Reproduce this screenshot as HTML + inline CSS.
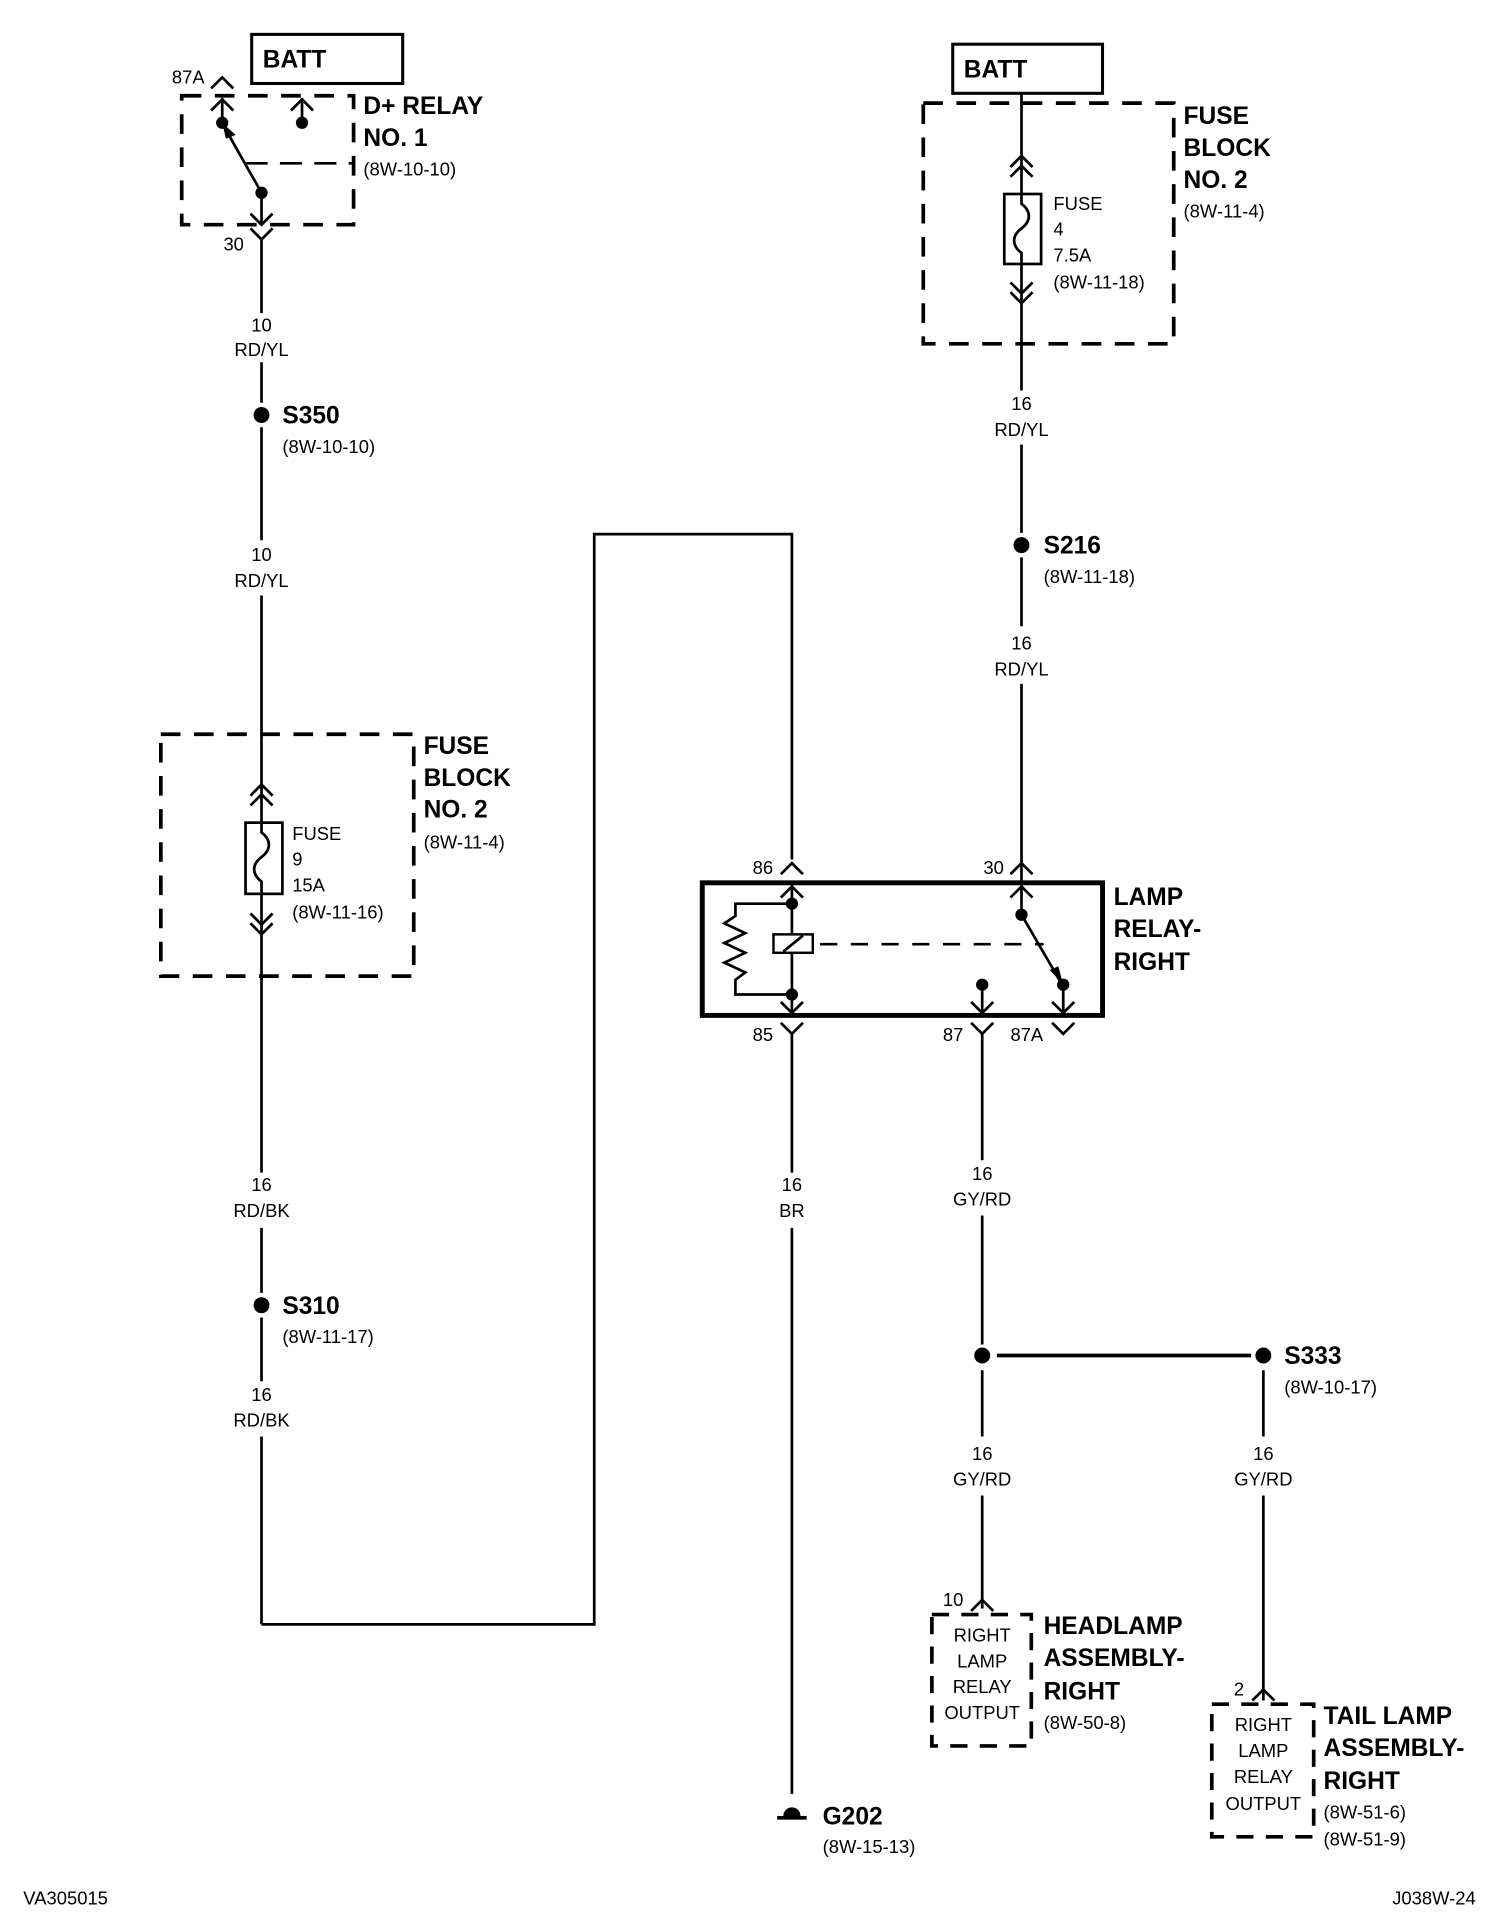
<!DOCTYPE html>
<html><head><meta charset="utf-8"><style>
html,body{margin:0;padding:0;background:#fff;}
svg{display:block;}
text{font-family:"Liberation Sans",sans-serif;fill:#000;}
.b{font-weight:bold;font-size:20px;}
.s{font-size:15px;}
.c{text-anchor:middle;}
</style></head><body>
<svg width="1504" height="1924" viewBox="0 0 1225 1567" preserveAspectRatio="none" xmlns="http://www.w3.org/2000/svg">
<g stroke="#000" fill="none" stroke-width="2.2">
<!-- LEFT TOP RELAY -->
<rect x="205" y="28" width="123" height="40" stroke-width="2.5"/>
<rect x="148" y="78" width="140" height="105" stroke-width="3" stroke-dasharray="16,11"/>
<polyline points="172,72 181,63 190,72"/>
<line x1="181" y1="80" x2="181" y2="100"/>
<polyline points="172,90 181,81 190,90"/>
<line x1="246" y1="80" x2="246" y2="100"/>
<polyline points="237,90 246,81 255,90"/>
<line x1="213" y1="157" x2="183" y2="104"/>
<line x1="200" y1="133" x2="288" y2="133" stroke-dasharray="18,10"/>
<line x1="213" y1="157" x2="213" y2="183"/>
<polyline points="204,174 213,183 222,174"/>
<polyline points="204,186 213,195 222,186"/>
<!-- left wire -->
<line x1="213" y1="195" x2="213" y2="255"/>
<line x1="213" y1="295" x2="213" y2="328"/>
<line x1="213" y1="348" x2="213" y2="440"/>
<line x1="213" y1="485" x2="213" y2="670"/>
<rect x="131" y="598" width="206" height="197" stroke-width="3" stroke-dasharray="16,11"/>
<polyline points="204,648 213,639 222,648"/>
<polyline points="204,656 213,647 222,656"/>
<rect x="200" y="670" width="30" height="58"/>
<path d="M213,670 v8 c8,6 8,14 0,20 c-8,6 -8,14 0,20 v10"/>
<line x1="213" y1="728" x2="213" y2="955"/>
<polyline points="204,744 213,753 222,744"/>
<polyline points="204,752 213,761 222,752"/>
<line x1="213" y1="1000" x2="213" y2="1053"/>
<line x1="213" y1="1073" x2="213" y2="1125"/>
<line x1="213" y1="1170" x2="213" y2="1323"/>
<polyline points="213,1323 484,1323 484,435 645,435 645,700"/>
<!-- RELAY RIGHT -->
<rect x="572" y="719" width="326" height="108" stroke-width="4"/>
<polyline points="636,712 645,703 654,712"/>
<polyline points="636,731 645,722 654,731"/>
<line x1="645" y1="719" x2="645" y2="825"/>
<polyline points="645,736 599,736 599,746 590,752 607,760 590,768 607,776 590,784 607,792 599,798 599,810 645,810"/>
<rect x="630" y="761" width="32" height="15" stroke-width="2" fill="#fff"/>
<line x1="638" y1="775" x2="654" y2="762"/>
<line x1="668" y1="769" x2="850" y2="769" stroke-dasharray="14,11"/>
<polyline points="823,712 832,703 841,712"/>
<polyline points="823,731 832,722 841,731"/>
<line x1="832" y1="700" x2="832" y2="745"/>
<line x1="832" y1="745" x2="864" y2="800"/>
<polyline points="636,816 645,825 654,816"/>
<polyline points="636,833 645,842 654,833"/>
<line x1="645" y1="842" x2="645" y2="955"/>
<line x1="800" y1="802" x2="800" y2="825"/>
<polyline points="791,816 800,825 809,816"/>
<polyline points="791,833 800,842 809,833"/>
<line x1="800" y1="842" x2="800" y2="945"/>
<line x1="866" y1="802" x2="866" y2="825"/>
<polyline points="857,816 866,825 875,816"/>
<polyline points="857,833 866,842 875,833"/>
<line x1="645" y1="1000" x2="645" y2="1461"/>
<line x1="800" y1="990" x2="800" y2="1095"/>
<line x1="812" y1="1104" x2="1019" y2="1104" stroke-width="3"/>
<line x1="800" y1="1116" x2="800" y2="1170"/>
<line x1="1029" y1="1116" x2="1029" y2="1170"/>
<line x1="800" y1="1218" x2="800" y2="1310"/>
<line x1="1029" y1="1218" x2="1029" y2="1385"/>
<polyline points="791,1312 800,1303 809,1312"/>
<rect x="759" y="1315" width="81" height="107" stroke-width="3" stroke-dasharray="14,10"/>
<polyline points="1020,1385 1029,1376 1038,1385"/>
<rect x="987" y="1388" width="83" height="108" stroke-width="3" stroke-dasharray="14,10"/>
<!-- RIGHT TOP -->
<rect x="776" y="36" width="122" height="40" stroke-width="2.5"/>
<rect x="752" y="84" width="204" height="196" stroke-width="3" stroke-dasharray="16,11"/>
<line x1="832" y1="76" x2="832" y2="158"/>
<polyline points="823,136 832,127 841,136"/>
<polyline points="823,144 832,135 841,144"/>
<rect x="818" y="158" width="30" height="57"/>
<path d="M832,158 v8 c8,6 8,14 0,20 c-8,6 -8,14 0,20 v9"/>
<line x1="832" y1="215" x2="832" y2="318"/>
<polyline points="823,230 832,239 841,230"/>
<polyline points="823,238 832,247 841,238"/>
<line x1="832" y1="362" x2="832" y2="434"/>
<line x1="832" y1="454" x2="832" y2="510"/>
<line x1="832" y1="557" x2="832" y2="700"/>
</g>
<g fill="#000">
<circle cx="181" cy="100" r="5"/><circle cx="246" cy="100" r="5"/><circle cx="213" cy="157" r="5"/>
<polygon points="181,100 192,110 184,113"/>
<circle cx="213" cy="338" r="6.5"/><circle cx="213" cy="1063" r="6.5"/>
<circle cx="645" cy="736" r="5"/><circle cx="645" cy="810" r="5"/>
<circle cx="832" cy="745" r="5"/><circle cx="800" cy="802" r="5"/><circle cx="866" cy="802" r="5"/>
<polygon points="866,802 855,790 862,787"/>
<circle cx="832" cy="444" r="6.5"/>
<circle cx="800" cy="1104" r="6.5"/><circle cx="1029" cy="1104" r="6.5"/>
<path d="M638,1479 a7,7 0 0 1 14,0 z"/>
<rect x="633" y="1479" width="24" height="3"/>
</g>
<!-- TEXT -->
<text class="b" x="214" y="55">BATT</text>
<text class="b" x="785" y="63">BATT</text>
<text class="s" x="140" y="68">87A</text>
<text class="s" x="182" y="204">30</text>
<text class="b" x="296" y="93">D+ RELAY</text>
<text class="b" x="296" y="119">NO. 1</text>
<text class="s" x="296" y="143">(8W-10-10)</text>
<text class="s c" x="213" y="270">10</text><text class="s c" x="213" y="290">RD/YL</text>
<text class="b" x="230" y="345">S350</text><text class="s" x="230" y="369">(8W-10-10)</text>
<text class="s c" x="213" y="457">10</text><text class="s c" x="213" y="478">RD/YL</text>
<text class="b" x="345" y="614">FUSE</text><text class="b" x="345" y="640">BLOCK</text><text class="b" x="345" y="666">NO. 2</text>
<text class="s" x="345" y="691">(8W-11-4)</text>
<text class="s" x="238" y="684">FUSE</text><text class="s" x="238" y="705">9</text><text class="s" x="238" y="726">15A</text><text class="s" x="238" y="748">(8W-11-16)</text>
<text class="s c" x="213" y="970">16</text><text class="s c" x="213" y="991">RD/BK</text>
<text class="b" x="230" y="1070">S310</text><text class="s" x="230" y="1094">(8W-11-17)</text>
<text class="s c" x="213" y="1141">16</text><text class="s c" x="213" y="1162">RD/BK</text>
<text class="b" x="964" y="101">FUSE</text><text class="b" x="964" y="127">BLOCK</text><text class="b" x="964" y="153">NO. 2</text>
<text class="s" x="964" y="177">(8W-11-4)</text>
<text class="s" x="858" y="171">FUSE</text><text class="s" x="858" y="192">4</text><text class="s" x="858" y="213">7.5A</text><text class="s" x="858" y="235">(8W-11-18)</text>
<text class="s c" x="832" y="334">16</text><text class="s c" x="832" y="355">RD/YL</text>
<text class="b" x="850" y="451">S216</text><text class="s" x="850" y="475">(8W-11-18)</text>
<text class="s c" x="832" y="529">16</text><text class="s c" x="832" y="550">RD/YL</text>
<text class="s" x="613" y="712">86</text><text class="s" x="801" y="712">30</text>
<text class="b" x="907" y="737">LAMP</text><text class="b" x="907" y="763">RELAY-</text><text class="b" x="907" y="790">RIGHT</text>
<text class="s" x="613" y="848">85</text><text class="s" x="768" y="848">87</text><text class="s" x="823" y="848">87A</text>
<text class="s c" x="645" y="970">16</text><text class="s c" x="645" y="991">BR</text>
<text class="b" x="670" y="1486">G202</text><text class="s" x="670" y="1509">(8W-15-13)</text>
<text class="s c" x="800" y="961">16</text><text class="s c" x="800" y="982">GY/RD</text>
<text class="b" x="1046" y="1111">S333</text><text class="s" x="1046" y="1135">(8W-10-17)</text>
<text class="s c" x="800" y="1189">16</text><text class="s c" x="800" y="1210">GY/RD</text>
<text class="s c" x="1029" y="1189">16</text><text class="s c" x="1029" y="1210">GY/RD</text>
<text class="s" x="768" y="1308">10</text>
<text class="s c" x="800" y="1337">RIGHT</text><text class="s c" x="800" y="1358">LAMP</text><text class="s c" x="800" y="1379">RELAY</text><text class="s c" x="800" y="1400">OUTPUT</text>
<text class="b" x="850" y="1331">HEADLAMP</text><text class="b" x="850" y="1357">ASSEMBLY-</text><text class="b" x="850" y="1384">RIGHT</text>
<text class="s" x="850" y="1408">(8W-50-8)</text>
<text class="s" x="1005" y="1381">2</text>
<text class="s c" x="1029" y="1410">RIGHT</text><text class="s c" x="1029" y="1431">LAMP</text><text class="s c" x="1029" y="1452">RELAY</text><text class="s c" x="1029" y="1474">OUTPUT</text>
<text class="b" x="1078" y="1404">TAIL LAMP</text><text class="b" x="1078" y="1430">ASSEMBLY-</text><text class="b" x="1078" y="1457">RIGHT</text>
<text class="s" x="1078" y="1481">(8W-51-6)</text><text class="s" x="1078" y="1503">(8W-51-9)</text>
<text class="s" x="19" y="1551">VA305015</text>
<text class="s" x="1202" y="1551" text-anchor="end">J038W-24</text>
</svg>
</body></html>
